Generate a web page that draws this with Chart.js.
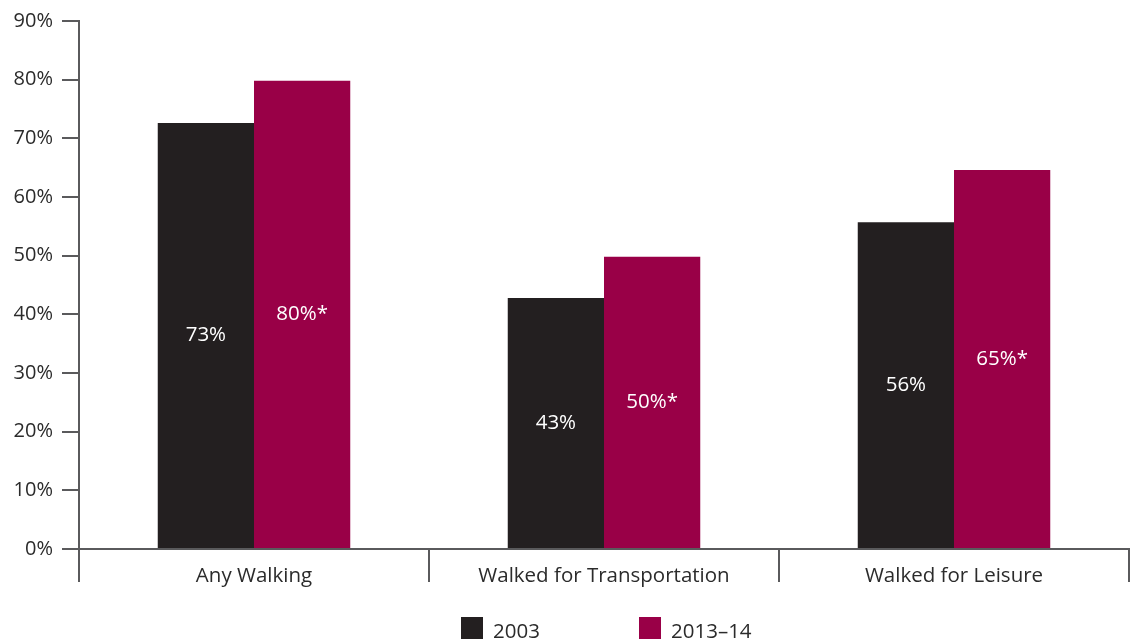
<!DOCTYPE html>
<html>
<head>
<meta charset="utf-8">
<script src="https://cdn.jsdelivr.net/npm/chart.js@4/dist/chart.umd.min.js"></script>
<style>
  html, body { margin: 0; padding: 0; background: #fff; }
  #wrap { width: 1135px; height: 641px; position: relative; }
</style>
</head>
<body>
<div id="wrap"><canvas id="c" width="1135" height="641"></canvas></div>
<script>
const categories = ['Any Walking', 'Walked for Transportation', 'Walked for Leisure'];
const seriesNames = ['2003', '2013\u201314'];
const values2003 = [72.6, 42.8, 55.7];
const values2013 = [79.8, 49.8, 64.6];
const valueLabels2003 = ['73%', '43%', '56%'];
const valueLabels2013 = ['80%*', '50%*', '65%*'];
const yTicks = [0, 10, 20, 30, 40, 50, 60, 70, 80, 90];

const FONT = '"Open Sans", Lato, sans-serif';
const FS = 20.5;
const FSY = 20;
const AXIS = '#5a5a5c';
const TEXT = '#2b2b2b';
const DARK = '#231f20';
const RED = '#990047';

const barLabels = {
  id: 'barLabels',
  afterDatasetsDraw(chart) {
    const ctx = chart.ctx;
    ctx.save();
    ctx.fillStyle = '#ffffff';
    ctx.font = FS + 'px ' + FONT;
    ctx.textAlign = 'center';
    ctx.textBaseline = 'middle';
    chart.data.datasets.forEach((ds, di) => {
      const meta = chart.getDatasetMeta(di);
      meta.data.forEach((bar, i) => {
        ctx.fillText(ds.valueLabels[i], bar.x, (bar.y + bar.base) / 2);
      });
    });
    ctx.restore();
  }
};

const customLegend = {
  id: 'customLegend',
  afterDraw(chart) {
    const ctx = chart.ctx;
    ctx.save();
    ctx.font = FS + 'px ' + FONT;
    ctx.textBaseline = 'middle';
    ctx.textAlign = 'left';
    const box = 22, gapText = 10;
    const starts = [461, 639];
    const top = 617;
    chart.data.datasets.forEach((ds, i) => {
      const x = starts[i];
      ctx.fillStyle = ds.backgroundColor;
      ctx.fillRect(x, top, box, box);
      ctx.fillStyle = TEXT;
      ctx.fillText(ds.label, x + box + gapText, top + box / 2 + 4);
    });
    ctx.restore();
  }
};

new Chart(document.getElementById('c'), {
  type: 'bar',
  data: {
    labels: categories,
    datasets: [
      { label: seriesNames[0], data: values2003, valueLabels: valueLabels2003, backgroundColor: DARK, borderWidth: 0 },
      { label: seriesNames[1], data: values2013, valueLabels: valueLabels2013, backgroundColor: RED, borderWidth: 0 }
    ]
  },
  options: {
    responsive: false,
    animation: false,
    devicePixelRatio: 1,
    layout: { padding: { top: 21, right: 6, bottom: 52, left: 0 } },
    datasets: { bar: { barPercentage: 1, categoryPercentage: 0.55 } },
    plugins: { legend: { display: false }, tooltip: { enabled: false } },
    scales: {
      x: {
        grid: { display: true, drawOnChartArea: false, drawTicks: true, tickLength: 33, color: AXIS, lineWidth: 2, offset: true },
        border: { display: true, color: AXIS, width: 2 },
        ticks: { color: TEXT, font: { family: FONT, size: FS }, padding: -18, maxRotation: 0 },
        afterFit(s) { s.height = 40; }
      },
      y: {
        min: 0, max: 90,
        afterBuildTicks(s) { s.ticks = yTicks.map(v => ({ value: v })); },
        grid: { display: true, drawOnChartArea: false, drawTicks: true, tickLength: 17, color: AXIS, lineWidth: 2 },
        border: { display: true, color: AXIS, width: 2 },
        ticks: { color: TEXT, font: { family: FONT, size: FSY }, padding: 9, callback: v => v + '%' },
        afterFit(s) { s.width = 79; }
      }
    }
  },
  plugins: [barLabels, customLegend]
});
</script>
</body>
</html>
